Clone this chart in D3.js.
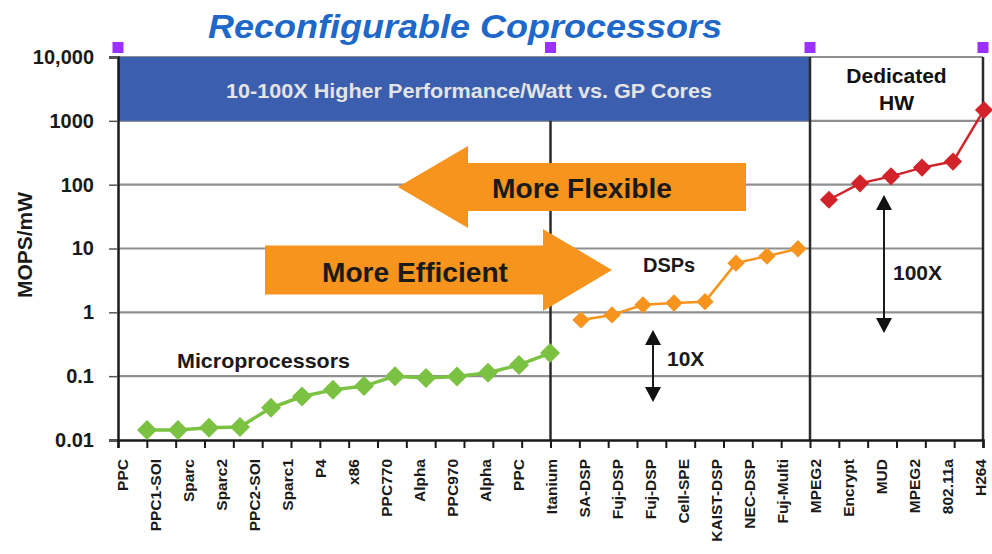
<!DOCTYPE html>
<html>
<head>
<meta charset="utf-8">
<script src="https://cdn.jsdelivr.net/npm/d3@7/dist/d3.min.js"></script>
<style>
  html, body { margin: 0; padding: 0; background: #fff; }
  svg { display: block; font-family: "Liberation Sans", Arial, sans-serif; }
</style>
</head>
<body>
<svg id="chart" width="992" height="554"></svg>
<script>
// ---- data ----
const categoryLabels = [
  "PPC", "PPC1-SOI", "Sparc", "Sparc2", "PPC2-SOI", "Sparc1", "P4", "x86",
  "PPC770", "Alpha", "PPC970", "Alpha", "PPC", "Itanium",
  "SA-DSP", "Fuj-DSP", "Fuj-DSP", "Cell-SPE", "KAIST-DSP", "NEC-DSP", "Fuj-Multi",
  "MPEG2", "Encrypt", "MUD", "MPEG2", "802.11a", "H264"
];
const yTickValues = [0.01, 0.1, 1, 10, 100, 1000, 10000];
const yTickLabels = ["0.01", "0.1", "1", "10", "100", "1000", "10,000"];

// MOPS/mW per design
const microprocessorValues = [0.0144, 0.0144, 0.0155, 0.016, 0.032, 0.048, 0.061, 0.07,
                              0.1, 0.094, 0.099, 0.113, 0.15, 0.23];
const dspValues = [0.76, 0.91, 1.31, 1.4, 1.47, 5.9, 7.6, 9.9];
const dedicatedValues = [58, 105, 135, 185, 230, 1480];

const seriesNames = ["Microprocessors", "DSPs", "Dedicated HW"];
const seriesColors = ["#7cc242", "#f7941d", "#d2232a"];
const seriesMarkerArea = [200, 150, 165];
const seriesLineWidth = [3.5, 2.5, 2.5];

// ---- layout ----
const svg = d3.select("#chart");
const plot = { left: 118, right: 983, top: 57, bottom: 440 };
const ink = "#1a1a1a";

const y = d3.scaleLog().domain([0.01, 10000]).range([plot.bottom, plot.top]);
// 30 tick intervals along the category axis
const xTick = d3.scaleLinear().domain([0, 30]).range([plot.left, plot.right]);
// consecutive point slots for all series
const totalPoints = microprocessorValues.length + dspValues.length + dedicatedValues.length;
const xPoint = d3.scalePoint().domain(d3.range(totalPoints)).range([147, 984]);
// category label slots
const xLabel = d3.scalePoint().domain(d3.range(categoryLabels.length)).range([122, 980]);

// build series with running slot index
let slot = 0;
const series = [microprocessorValues, dspValues, dedicatedValues].map((vals, si) => ({
  name: seriesNames[si],
  color: seriesColors[si],
  area: seriesMarkerArea[si],
  width: seriesLineWidth[si],
  points: vals.map(v => ({ i: slot++, v }))
}));

// ---- title ----
svg.append("text")
  .attr("x", 465).attr("y", 38)
  .attr("text-anchor", "middle")
  .attr("font-size", 34).attr("font-weight", "bold").attr("font-style", "italic")
  .attr("textLength", 514).attr("lengthAdjust", "spacingAndGlyphs")
  .attr("fill", "#1d68c8")
  .text("Reconfigurable Coprocessors");

// ---- horizontal gridlines ----
svg.append("g").selectAll("line").data(yTickValues.slice(1)).join("line")
  .attr("x1", plot.left).attr("x2", plot.right)
  .attr("y1", d => y(d)).attr("y2", d => y(d))
  .attr("stroke", "#8f8f8f").attr("stroke-width", 2.2);

// ---- header bands ----
const sep1 = xTick(15), sep2 = xTick(24);
svg.append("rect")
  .attr("x", plot.left).attr("y", y(10000))
  .attr("width", sep2 - plot.left).attr("height", y(1000) - y(10000))
  .attr("fill", "#3b5fae");
svg.append("text")
  .attr("x", 469).attr("y", 98)
  .attr("text-anchor", "middle")
  .attr("font-size", 21).attr("font-weight", "bold").attr("fill", "#e4e4e4")
  .attr("textLength", 486).attr("lengthAdjust", "spacingAndGlyphs")
  .text("10-100X Higher Performance/Watt vs. GP Cores");

const dedText = svg.append("text")
  .attr("text-anchor", "middle")
  .attr("font-size", 21).attr("font-weight", "bold").attr("fill", "#111");
dedText.append("tspan").attr("x", (sep2 + plot.right) / 2).attr("y", 83).text("Dedicated");
dedText.append("tspan").attr("x", (sep2 + plot.right) / 2).attr("y", 110).text("HW");

// ---- vertical separators ----
svg.append("line")
  .attr("x1", sep1).attr("x2", sep1).attr("y1", y(1000)).attr("y2", plot.bottom)
  .attr("stroke", "#2b2b2b").attr("stroke-width", 2.5);
[sep2, plot.right].forEach(xv => {
  svg.append("line")
    .attr("x1", xv).attr("x2", xv).attr("y1", plot.top).attr("y2", plot.bottom)
    .attr("stroke", "#2b2b2b").attr("stroke-width", 2.5);
});

// ---- y axis ----
const yAxis = d3.axisLeft(y)
  .tickValues(yTickValues)
  .tickFormat((d, i) => yTickLabels[i])
  .tickSize(9).tickPadding(15);
const gy = svg.append("g").attr("transform", `translate(${plot.left},0)`).call(yAxis);
gy.select(".domain").attr("stroke", ink).attr("stroke-width", 2.5);
gy.selectAll(".tick line").attr("stroke", "#555").attr("stroke-width", 1.5);
gy.selectAll(".tick text")
  .attr("font-size", 20).attr("font-weight", "bold").attr("fill", ink)
  .attr("font-family", "Liberation Sans, Arial, sans-serif");

svg.append("text")
  .attr("transform", "translate(32,245) rotate(-90)")
  .attr("text-anchor", "middle")
  .attr("font-size", 21).attr("font-weight", "bold").attr("fill", ink)
  .attr("textLength", 106).attr("lengthAdjust", "spacingAndGlyphs")
  .text("MOPS/mW");

// ---- x axis (tick marks only) ----
const xAxis = d3.axisBottom(xTick).tickValues(d3.range(31)).tickSize(8).tickFormat("");
const gx = svg.append("g").attr("transform", `translate(0,${plot.bottom})`).call(xAxis);
gx.select(".domain").attr("stroke", ink).attr("stroke-width", 2.5);
gx.selectAll(".tick line").attr("stroke", ink).attr("stroke-width", 2);

svg.append("g").selectAll("text").data(categoryLabels).join("text")
  .attr("transform", (d, i) => `translate(${xLabel(i) + 5.5},459) rotate(-90)`)
  .attr("text-anchor", "end")
  .attr("font-size", 15.5).attr("font-weight", "bold").attr("fill", ink)
  .text(d => d);

// ---- purple markers on top of the separators ----
svg.append("g").selectAll("rect").data([plot.left, sep1, sep2, plot.right]).join("rect")
  .attr("x", d => d - 5.5).attr("y", 42).attr("width", 11).attr("height", 11)
  .attr("fill", "#9b30ff");

// ---- direction arrows ----
function blockArrow(x0, x1, yc, bodyH, headH, headL, dir) {
  // dir = -1 points left (tip at x0), +1 points right (tip at x1)
  const bh = bodyH / 2, hh = headH / 2;
  let pts;
  if (dir < 0) {
    pts = [[x0, yc], [x0 + headL, yc - hh], [x0 + headL, yc - bh], [x1, yc - bh],
           [x1, yc + bh], [x0 + headL, yc + bh], [x0 + headL, yc + hh]];
  } else {
    pts = [[x1, yc], [x1 - headL, yc - hh], [x1 - headL, yc - bh], [x0, yc - bh],
           [x0, yc + bh], [x1 - headL, yc + bh], [x1 - headL, yc + hh]];
  }
  svg.append("path").attr("d", d3.line()(pts) + "Z").attr("fill", "#f7941d");
}
blockArrow(398, 746, 187, 48, 82, 70, -1);
blockArrow(265, 612, 270, 49, 82, 69, 1);

svg.append("text").attr("x", 582).attr("y", 198).attr("text-anchor", "middle")
  .attr("font-size", 28).attr("font-weight", "bold").attr("fill", ink)
  .attr("textLength", 180).attr("lengthAdjust", "spacingAndGlyphs")
  .text("More Flexible");
svg.append("text").attr("x", 415).attr("y", 282).attr("text-anchor", "middle")
  .attr("font-size", 28).attr("font-weight", "bold").attr("fill", ink)
  .attr("textLength", 186).attr("lengthAdjust", "spacingAndGlyphs")
  .text("More Efficient");

// ---- series lines and diamond markers ----
const line = d3.line().x(d => xPoint(d.i)).y(d => y(d.v));
series.forEach(s => {
  svg.append("path").datum(s.points)
    .attr("d", line).attr("fill", "none")
    .attr("stroke", s.color).attr("stroke-width", s.width);
  svg.append("g").selectAll("path").data(s.points).join("path")
    .attr("d", d3.symbol(d3.symbolSquare, s.area))
    .attr("transform", d => `translate(${xPoint(d.i)},${y(d.v)}) rotate(45)`)
    .attr("fill", s.color);
});

// ---- group labels ----
svg.append("text").attr("x", 177).attr("y", 368)
  .attr("font-size", 21).attr("font-weight", "bold").attr("fill", ink)
  .attr("textLength", 173).attr("lengthAdjust", "spacingAndGlyphs")
  .text("Microprocessors");
svg.append("text").attr("x", 643).attr("y", 272)
  .attr("font-size", 20).attr("font-weight", "bold").attr("fill", ink)
  .text("DSPs");

// ---- ratio arrows ----
function doubleArrow(xc, yTop, yBot) {
  const hw = 8, hl = 15;
  svg.append("line").attr("x1", xc).attr("x2", xc)
    .attr("y1", yTop + hl - 2).attr("y2", yBot - hl + 2)
    .attr("stroke", ink).attr("stroke-width", 2);
  svg.append("path").attr("d", d3.line()([[xc, yTop], [xc - hw, yTop + hl], [xc + hw, yTop + hl]]) + "Z")
    .attr("fill", "#111");
  svg.append("path").attr("d", d3.line()([[xc, yBot], [xc - hw, yBot - hl], [xc + hw, yBot - hl]]) + "Z")
    .attr("fill", "#111");
}
doubleArrow(653, 330, 402);
doubleArrow(884, 195, 333);
svg.append("text").attr("x", 667).attr("y", 366)
  .attr("font-size", 21).attr("font-weight", "bold").attr("fill", ink).text("10X");
svg.append("text").attr("x", 893).attr("y", 280)
  .attr("font-size", 21).attr("font-weight", "bold").attr("fill", ink).text("100X");
</script>
</body>
</html>
